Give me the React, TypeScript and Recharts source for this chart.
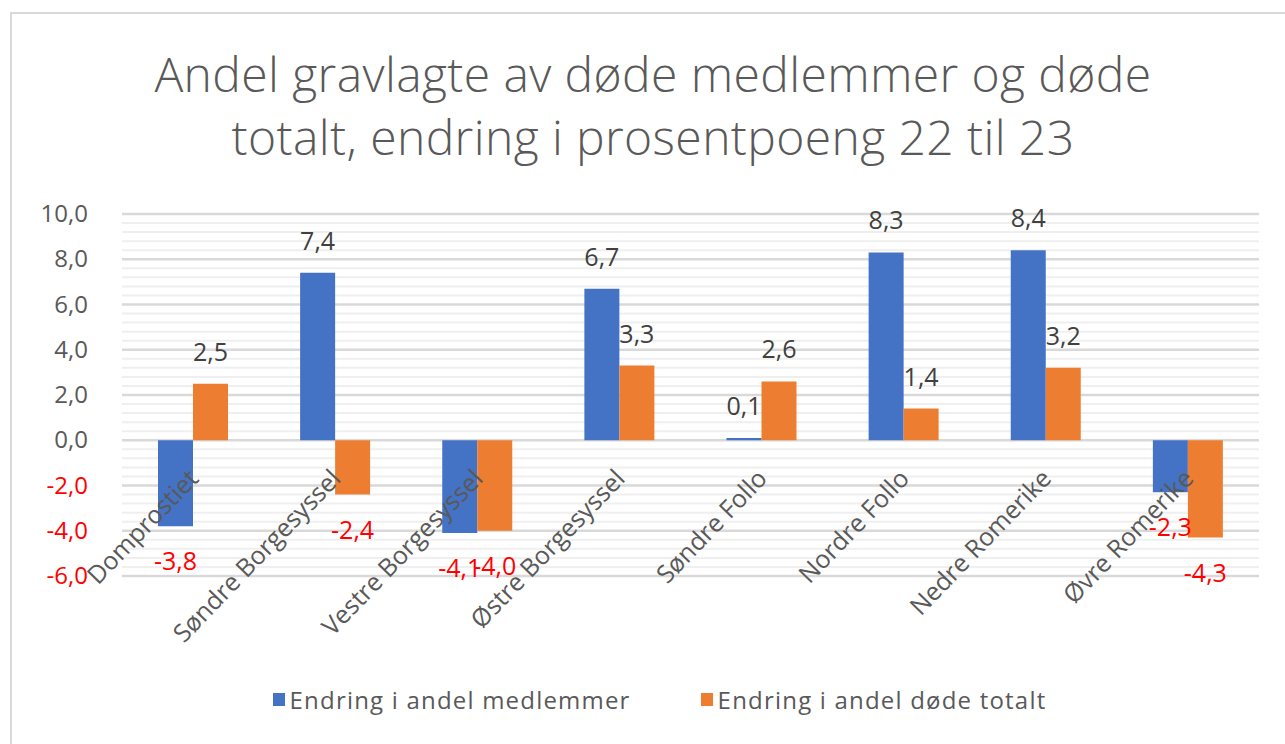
import React from 'react';
import { BarChart, Bar, XAxis, YAxis, ReferenceLine, LabelList } from 'recharts';

const categories = ['Domprostiet', 'Søndre Borgesyssel', 'Vestre Borgesyssel', 'Østre Borgesyssel', 'Søndre Follo', 'Nordre Follo', 'Nedre Romerike', 'Øvre Romerike'];
const medlemmer = [-3.8, 7.4, -4.1, 6.7, 0.1, 8.3, 8.4, -2.3];
const doedeTotalt = [2.5, -2.4, -4.0, 3.3, 2.6, 1.4, 3.2, -4.3];
const yTicks = [-6, -4, -2, 0, 2, 4, 6, 8, 10];
const seriesNames = ['Endring i andel medlemmer', 'Endring i andel døde totalt'];
const seriesColors = ['#4472c4', '#ed7d31'];

const titleLines = ['Andel gravlagte av døde medlemmer og døde', 'totalt, endring i prosentpoeng 22 til 23'];

const data = categories.map((name, i) => ({ name, medlemmer: medlemmer[i], totalt: doedeTotalt[i] }));

// light minor grid every 0.4 between the major ticks
const minorGrid = Array.from({ length: 41 }, (_, i) => Math.round((-6 + i * 0.4) * 10) / 10).filter(v => !yTicks.includes(v));

const FONT = '"Open Sans", sans-serif';
const fmt = (v: number) => v.toFixed(1).replace('.', ',');

const YTick = (props: any) => {
    const { x, y, payload } = props;
    const v = payload.value as number;
    return (
        <text x={x} y={y} dy={8} textAnchor="end" fontSize={24} fontFamily={FONT} fill={v < 0 ? '#ff0000' : '#595959'}>
            {fmt(v)}
        </text>
    );
};

const XTick = (props: any) => {
    const { x, y, payload } = props;
    // labels sit just under the zero line
    return (
        <text transform={`translate(${x + 7},${y - 104}) rotate(-46)`} textAnchor="end" fontSize={25} fontFamily={FONT} fill="#595959">
            {payload.value}
        </text>
    );
};

const ValueLabel = (props: any) => {
    const { x, y, width, height, value } = props;
    const top = Math.min(y, y + height);
    const bottom = Math.max(y, y + height);
    const neg = value < 0;
    return (
        <text x={x + width / 2} y={neg ? bottom + 44 : top - 23} textAnchor="middle" fontSize={25} fontFamily={FONT} fill={neg ? '#ff0000' : '#404040'}>
            {fmt(value)}
        </text>
    );
};

export default function App() {
    return (
        <div style={{ position: 'fixed', left: 0, top: 0, width: 1285, height: 744, background: '#fff', overflow: 'hidden' }}>
            <div style={{ position: 'absolute', left: 10, top: 12, width: 1300, height: 760, borderLeft: '2px solid #d9d9d9', borderTop: '2px solid #d9d9d9' }} />
            <div style={{ position: 'absolute', left: 0, top: 42, width: 1306, textAlign: 'center', fontFamily: FONT, fontWeight: 300, fontSize: 48, lineHeight: '63px', letterSpacing: 0.4, color: '#595959' }}>
                {titleLines.map(l => <div key={l}>{l}</div>)}
            </div>
            <div style={{ position: 'absolute', left: 0, top: 0 }}>
                <BarChart width={1285} height={744} data={data} margin={{ top: 214, right: 26, bottom: 138, left: 0 }} barSize={35} barGap={0}>
                    {minorGrid.map(v => (
                        <ReferenceLine key={`m${v}`} y={v} stroke="#efefef" strokeWidth={2} zIndex={-50} />
                    ))}
                    {yTicks.map(v => (
                        <ReferenceLine key={`M${v}`} y={v} stroke="#d9d9d9" strokeWidth={2.5} zIndex={-40} />
                    ))}
                    <XAxis dataKey="name" axisLine={false} tickLine={false} interval={0} height={30} tick={<XTick />} />
                    <YAxis domain={[-6, 10]} ticks={yTicks} axisLine={false} tickLine={false} width={122} tickMargin={28} tick={<YTick />} />
                    <Bar dataKey="medlemmer" fill={seriesColors[0]} isAnimationActive={false}>
                        <LabelList dataKey="medlemmer" content={<ValueLabel />} />
                    </Bar>
                    <Bar dataKey="totalt" fill={seriesColors[1]} isAnimationActive={false}>
                        <LabelList dataKey="totalt" content={<ValueLabel />} />
                    </Bar>
                </BarChart>
            </div>
            <div style={{ position: 'absolute', left: 0, top: 683, width: 1319, display: 'flex', justifyContent: 'center', fontFamily: FONT, fontSize: 24, letterSpacing: 1.2, color: '#595959' }}>
                {seriesNames.map((n, i) => (
                    <div key={n} style={{ display: 'flex', alignItems: 'center', marginRight: i === 0 ? 70 : 0 }}>
                        <span style={{ display: 'inline-block', width: 12, height: 13, background: seriesColors[i], marginRight: 5 }} />
                        <span>{n}</span>
                    </div>
                ))}
            </div>
        </div>
    );
}
